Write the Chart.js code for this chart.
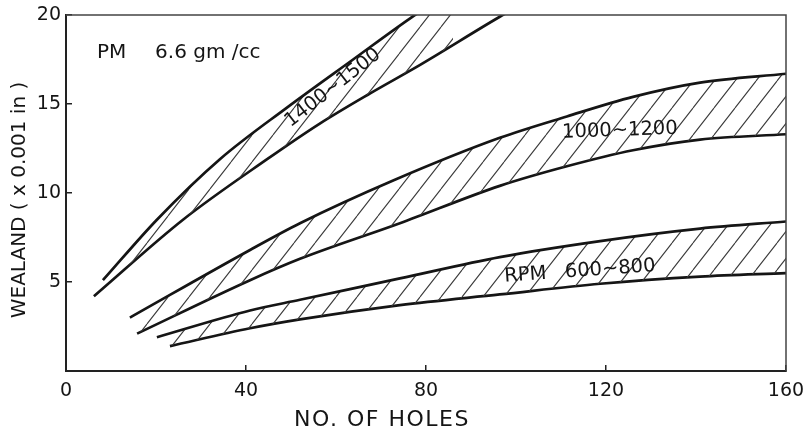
<!DOCTYPE html>
<html>
<head>
<meta charset="utf-8">
<script src="https://cdn.jsdelivr.net/npm/chart.js@4/dist/chart.umd.min.js"></script>
<style>
  html, body { margin: 0; padding: 0; background: #fff; }
  #wrap { width: 805px; height: 434px; }
</style>
</head>
<body>
<div id="wrap"><canvas id="chart" width="805" height="434"></canvas></div>
<script>
// wealand vs no. of holes, PM 6.6 gm/cc, three rpm bands
const xTicks = [0, 40, 80, 120, 160];
const yTicks = [5, 10, 15, 20];

// [no. of holes, wealand (x0.001 in)] - last points run past the top frame and get clipped
const rpm1400Upper = [[8.2, 5.1], [20.2, 8.5], [34.2, 11.9], [49.1, 14.8], [63.8, 17.5], [76.4, 19.8], [86, 21.4]];
const rpm1400Lower = [[6.2, 4.2], [26, 8.5], [44.7, 11.9], [56.4, 13.9], [67.6, 15.6], [78.7, 17.2], [96.4, 19.9], [102, 20.7]];
const rpm1000Upper = [[14.2, 3.0], [40.9, 6.8], [52, 8.3], [72.7, 10.7], [96.4, 13.1], [111.3, 14.3], [126, 15.4], [140.9, 16.2], [160, 16.7]];
const rpm1000Lower = [[15.8, 2.1], [40.9, 5.1], [52, 6.3], [74.2, 8.3], [96.4, 10.4], [111.3, 11.5], [126, 12.4], [140.9, 13.0], [160, 13.3]];
const rpm600Upper = [[20.2, 1.9], [40.9, 3.4], [52, 4.0], [74.2, 5.2], [96.4, 6.4], [118.7, 7.3], [140.9, 8.0], [160, 8.4]];
const rpm600Lower = [[23.1, 1.4], [40.9, 2.4], [52, 2.9], [74.2, 3.7], [96.4, 4.3], [118.7, 4.9], [140.9, 5.3], [160, 5.5]];

const bandNames = ['1400~1500', '1000~1200', 'RPM   600~800'];

const FONT = "'DejaVu Sans', sans-serif";
const canvas = document.getElementById('chart');
const ctx = canvas.getContext('2d');

// diagonal hatching for the bands
function makeHatch() {
  const c = document.createElement('canvas');
  c.width = 21;
  c.height = 27;
  const g = c.getContext('2d');
  g.strokeStyle = '#3a3a3a';
  g.lineWidth = 1.1;
  g.beginPath();
  [-21, 0, 21].forEach(dx => {
    g.moveTo(dx, 27);
    g.lineTo(dx + 21, 0);
  });
  g.stroke();
  return ctx.createPattern(c, 'repeat');
}
const hatch = makeHatch();

function curve(points, fillBelow) {
  return {
    data: points.map(p => ({ x: p[0], y: p[1] })),
    borderColor: '#151515',
    borderWidth: 2.7,
    pointRadius: 0,
    cubicInterpolationMode: 'monotone',
    fill: fillBelow ? '+1' : false,
    backgroundColor: hatch
  };
}

// label spots in data units
const notes = [
  { text: 'PM', at: [6.9, 17.6], rot: 0, align: 'left', size: 20 },
  { text: '6.6 gm /cc', at: [19.8, 17.6], rot: 0, align: 'left', size: 20 },
  { text: bandNames[0], at: [59.3, 15.9], rot: -38, align: 'center', size: 19.5 },
  { text: bandNames[1], at: [123.1, 13.5], rot: -2, align: 'center', size: 19.5 },
  { text: bandNames[2], at: [114.2, 5.6], rot: -4, align: 'center', size: 19.5 }
];

const extras = {
  id: 'extras',
  afterDatasetsDraw(chart) {
    const { ctx, chartArea: a, scales: { x, y } } = chart;
    ctx.save();
    // top + right side of the frame
    ctx.strokeStyle = '#444';
    ctx.lineWidth = 1.5;
    ctx.beginPath();
    ctx.moveTo(a.left, a.top);
    ctx.lineTo(a.right, a.top);
    ctx.lineTo(a.right, a.bottom);
    ctx.stroke();

    ctx.fillStyle = '#151515';
    notes.forEach(n => {
      ctx.save();
      ctx.translate(x.getPixelForValue(n.at[0]), y.getPixelForValue(n.at[1]));
      ctx.rotate(n.rot * Math.PI / 180);
      ctx.font = n.size + 'px ' + FONT;
      ctx.textAlign = n.align;
      ctx.textBaseline = n.align === 'left' ? 'alphabetic' : 'middle';
      ctx.fillText(n.text, 0, 0);
      ctx.restore();
    });

    // axis titles
    ctx.save();
    ctx.translate(20, a.top + 185);
    ctx.rotate(-Math.PI / 2);
    ctx.font = '20px ' + FONT;
    ctx.textAlign = 'center';
    ctx.textBaseline = 'middle';
    ctx.fillText('WEALAND ( x 0.001 in )', 0, 0);
    ctx.restore();

    ctx.font = '22px ' + FONT;
    ctx.letterSpacing = '1.5px';
    ctx.textAlign = 'center';
    ctx.textBaseline = 'middle';
    ctx.fillText('NO. OF HOLES', a.left + 316, a.bottom + 49);
    ctx.restore();
  }
};

new Chart(ctx, {
  type: 'line',
  data: {
    datasets: [
      curve(rpm1400Upper, true),
      curve(rpm1400Lower, false),
      curve(rpm1000Upper, true),
      curve(rpm1000Lower, false),
      curve(rpm600Upper, true),
      curve(rpm600Lower, false)
    ]
  },
  options: {
    responsive: false,
    animation: false,
    layout: { padding: { top: 15, right: 19, left: 0, bottom: 0 } },
    plugins: {
      legend: { display: false },
      tooltip: { enabled: false }
    },
    scales: {
      x: {
        type: 'linear',
        min: 0,
        max: 160,
        afterBuildTicks: s => { s.ticks = xTicks.map(v => ({ value: v })); },
        afterFit: s => {
          s.height = 63;
          s.paddingLeft = 0;
          s.paddingRight = 0;
        },
        grid: { drawOnChartArea: false, tickLength: -6, color: '#222', lineWidth: 1.5 },
        border: { color: '#222', width: 2 },
        ticks: { padding: 15, color: '#151515', maxRotation: 0, font: { family: FONT, size: 19 } }
      },
      y: {
        type: 'linear',
        min: 0,
        max: 20,
        afterBuildTicks: s => { s.ticks = yTicks.map(v => ({ value: v })); },
        afterFit: s => {
          s.width = 66;
          s.paddingTop = 0;
          s.paddingBottom = 0;
        },
        grid: { drawOnChartArea: false, tickLength: -6, color: '#222', lineWidth: 1.5 },
        border: { color: '#222', width: 2 },
        ticks: { padding: 11, color: '#151515', font: { family: FONT, size: 19 } }
      }
    }
  },
  plugins: [extras]
});
</script>
</body>
</html>
